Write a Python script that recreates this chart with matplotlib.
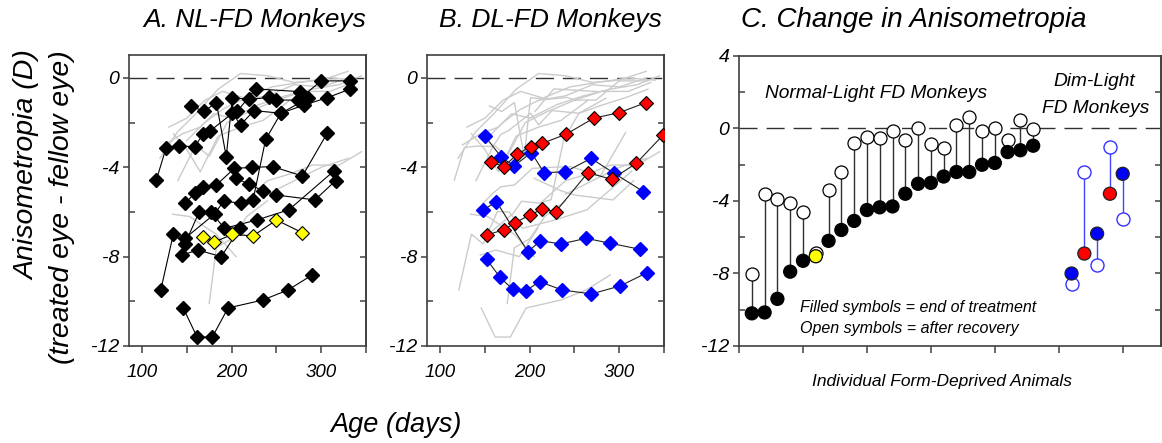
import matplotlib
matplotlib.use('Agg')
import matplotlib.pyplot as plt

plt.rcParams['font.family'] = ['Liberation Sans', 'DejaVu Sans']
plt.rcParams['font.style'] = 'italic'
plt.rcParams['axes.unicode_minus'] = False

# ---------------- data ----------------
# panel A: normal-light FD monkeys, black diamonds (age in days, anisometropia D)
nl_days = [
    [146, 161.5, 178.5, 196, 235, 263, 290],
    [121, 135, 148, 164, 177, 192, 228, 264, 314],
    [145, 162, 188.5, 209],
    [148, 181, 191, 210, 224, 238, 255, 285],
    [148, 159, 168, 183, 203, 223, 246, 279, 307],
    [205, 219, 235, 250, 293, 316],
    [116, 127, 141, 159, 168, 176, 201, 210, 225, 255, 281, 307, 332],
    [155, 169, 183, 194, 201, 219, 242, 250, 274, 300, 332],
    [206, 227, 276],
]
nl_vals = [
    [-10.3, -11.6, -11.6, -10.3, -9.94, -9.49, -8.82],
    [-9.49, -6.99, -7.43, -5.98, -6.0, -6.73, -6.36, -5.9, -4.17],
    [-7.93, -7.7, -8.0, -6.73],
    [-7.18, -6.09, -5.52, -5.6, -5.45, -2.75, -1.58, -0.91],
    [-5.61, -5.16, -4.87, -4.79, -4.05, -4.0, -3.97, -4.39, -2.45],
    [-4.49, -4.75, -5.05, -5.24, -5.46, -4.6],
    [-4.57, -3.12, -3.05, -3.07, -2.52, -2.37, -1.58, -2.1, -1.46, -1.58, -1.21, -0.88, -0.5],
    [-1.25, -1.5, -1.1, -3.52, -0.88, -0.96, -0.87, -0.99, -0.99, -0.13, -0.13],
    [-1.5, -0.49, -0.61],
]
# highlighted NL animal (yellow)
yel_days = [168, 180, 201, 224, 250, 279]
yel_vals = [-7.1, -7.36, -7.0, -7.07, -6.36, -6.93]

# grey background traces in panel A
grey_days = [
    [120, 140, 160, 185, 210, 240, 270, 300, 330],
    [130, 150, 170, 190, 215, 245, 275, 310, 340],
    [125, 145, 165, 180, 200, 230, 260, 290, 320, 345],
    [140, 160, 175, 195, 220, 250, 280, 310, 335],
    [150, 170, 190, 210, 240, 270, 300, 330],
    [135, 150, 165, 185, 210, 235, 265],
    [215, 240, 265, 290, 320, 345],
    [134, 153, 164, 183, 205],
    [175, 183, 200, 217, 240],
    [240, 270, 300, 330],
]
grey_vals = [
    [-3.6, -2.4, -1.6, -0.5, 0.2, 0.1, -0.2, -0.1, 0.3],
    [-2.2, -1.8, -1.0, -0.6, -0.9, -0.4, -0.2, 0.0, -0.1],
    [-3.0, -2.5, -2.2, -1.6, -1.8, -1.2, -0.8, -0.5, -0.3, 0.1],
    [-4.6, -3.0, -3.5, -2.0, -1.5, -1.0, -0.6, -0.6, -0.2],
    [-2.8, -2.0, -1.4, -1.0, -0.8, -0.3, -0.4, 0.0],
    [-2.5, -3.2, -4.2, -2.6, -2.2, -1.9, -1.0],
    [-5.5, -4.6, -4.3, -3.9, -3.9, -3.3],
    [-6.1, -6.2, -6.5, -7.0, -8.0],
    [-10.1, -7.6, -7.2, -6.2, -5.5],
    [-5.2, -4.6, -4.0, -3.6],
]

# panel B: dim-light FD monkeys
dl_days = [
    [150, 168.5, 182.6, 202, 216, 240, 268.5, 294.4, 327],
    [148, 163, 198, 212, 235, 263, 290, 323],
    [152, 167, 181, 196, 211, 236, 269, 301, 331],
    [157, 171, 186, 201, 214, 241, 271.5, 300, 330],
    [152, 171, 184, 200, 214, 229, 265, 291.5, 319, 349],
]
dl_vals = [
    [-2.6, -3.55, -3.94, -3.34, -4.24, -4.2, -3.6, -4.27, -5.09],
    [-5.91, -5.54, -7.78, -7.29, -7.43, -7.18, -7.4, -7.67],
    [-8.12, -8.93, -9.46, -9.52, -9.12, -9.49, -9.67, -9.31, -8.72],
    [-3.75, -3.97, -3.42, -3.07, -2.93, -2.51, -1.8, -1.55, -1.1],
    [-7.03, -6.8, -6.48, -6.14, -5.88, -5.99, -4.24, -4.54, -3.82, -2.55],
]
dl_colors = ['blue', 'blue', 'blue', 'red', 'red']

# panel C: change in anisometropia for individual animals
nl_end = [-10.2, -10.15, -9.4, -7.9, -7.3, -7.05, -6.2, -5.6, -5.1, -4.5, -4.35, -4.3,
          -3.6, -3.05, -3.0, -2.65, -2.4, -2.4, -2.0, -1.9, -1.3, -1.2, -0.95]
nl_rec = [-8.05, -3.6, -3.9, -4.1, -4.6, -6.85, -3.4, -2.4, -0.8, -0.45, -0.55, -0.15,
          -0.65, 0.05, -0.85, -1.1, 0.2, 0.65, -0.15, 0.0, -0.65, 0.45, -0.05]
nl_fill = ['black'] * 5 + ['yellow'] + ['black'] * 17
dl_end = [-8.0, -6.9, -5.8, -3.6, -2.5]
dl_rec = [-8.6, -2.4, -7.55, -1.0, -5.0]
dl_fill = ['blue', 'red', 'blue', 'red', 'blue']

spine_col = '#404040'
grey_col = '#cbcbcb'
diamond = 7.3


def style_axes(ax, ylim, ymajor, yminor, yright, xlim, xticks, xlabels):
    """Set limits, spines and the mixed in/out ticks used in every panel"""
    ax.set_xlim(xlim)
    ax.set_ylim(ylim)
    for s in ax.spines.values():
        s.set_color(spine_col)
        s.set_linewidth(1.2)
    ax.set_yticks(ymajor)
    ax.set_yticklabels([str(v) for v in ymajor])
    ax.set_yticks(yminor, minor=True)
    ax.set_xticks(xticks)
    ax.set_xticklabels(xlabels)
    ax.tick_params(axis='y', which='major', direction='out', length=4, width=1.1,
                   color=spine_col, labelsize=14, pad=3)
    ax.tick_params(axis='y', which='minor', direction='in', length=4, width=1.1, color=spine_col)
    ax.tick_params(axis='x', which='major', direction='out', length=5, width=1.1,
                   color=spine_col, labelsize=13.5, pad=8)
    # right spine: inward ticks every 2 D
    sec = ax.secondary_yaxis('right')
    sec.set_yticks(yright)
    sec.tick_params(direction='in', length=4, width=1.1, color=spine_col, labelright=False)
    sec.spines['right'].set_color(spine_col)
    sec.spines['right'].set_linewidth(1.2)
    # dashed zero line
    ax.axhline(0, color='#303030', lw=1.0, dashes=(13, 6.5), zorder=1)


fig = plt.figure(figsize=(11.62, 4.43), dpi=100)

xlim_age = (85.5, 350)
age_ticks = [100, 150, 200, 250, 300, 350]
age_labels = ['100', '', '200', '', '300', '']

# ---------------- panel A ----------------
axA = fig.add_axes([0.1110, 0.2190, 0.2040, 0.6569])
style_axes(axA, (-12, 1.03), [0, -4, -8, -12], [-2, -6, -10], [-2, -4, -6, -8, -10],
           xlim_age, age_ticks, age_labels)
for d, v in zip(grey_days, grey_vals):
    axA.plot(d, v, color=grey_col, lw=1.0, zorder=2)
for d, v in zip(nl_days, nl_vals):
    axA.plot(d, v, color='black', lw=0.8, marker='D', ms=diamond, mfc='black', mec='black', zorder=3)
axA.plot(yel_days, yel_vals, color='black', lw=0.8, marker='D', ms=diamond,
         mfc='#ffff00', mec='black', mew=0.8, zorder=4)

# ---------------- panel B ----------------
axB = fig.add_axes([0.3675, 0.2190, 0.2040, 0.6569])
style_axes(axB, (-12, 1.03), [0, -4, -8, -12], [-2, -6, -10], [-2, -4, -6, -8, -10],
           xlim_age, age_ticks, age_labels)
for d, v in zip(nl_days + grey_days, nl_vals + grey_vals):
    axB.plot(d, v, color=grey_col, lw=1.0, zorder=2)
for d, v, c in zip(dl_days, dl_vals, dl_colors):
    if c == 'red':
        axB.plot(d, v, color='#202020', lw=0.8, marker='D', ms=diamond, mfc='#ff0000',
                 mec='black', mew=0.8, zorder=4)
    else:
        axB.plot(d, v, color='#202020', lw=0.8, marker='D', ms=diamond, mfc='#0000ff',
                 mec='#0000ff', zorder=3)

# ---------------- panel C ----------------
axC = fig.add_axes([0.6360, 0.2190, 0.3632, 0.6546])
style_axes(axC, (-12, 4), [4, 0, -4, -8, -12], [2, -2, -6, -10], [2, -2, -4, -6, -8, -10],
           (0, 33), [0, 5, 10, 15, 20, 25, 30], [''] * 7)
nl_x = list(range(1, len(nl_end) + 1))
dl_x = list(range(26, 26 + len(dl_end)))
for x, e, r in zip(nl_x, nl_end, nl_rec):
    axC.plot([x, x], [e, r], color='#303030', lw=1.0, zorder=2)
axC.scatter(nl_x, nl_rec, s=88, facecolor='white', edgecolor='black', linewidth=0.9, zorder=3)
axC.scatter(nl_x, nl_end, s=88, facecolor=nl_fill, edgecolor='black', linewidth=0.9, zorder=4)
for x, e, r in zip(dl_x, dl_end, dl_rec):
    axC.plot([x, x], [e, r], color='#4444ff', lw=1.0, zorder=2)
axC.scatter(dl_x, dl_rec, s=88, facecolor='white', edgecolor='#3333ff', linewidth=1.0, zorder=3)
axC.scatter(dl_x, dl_end, s=88, facecolor=dl_fill, edgecolor='#202020', linewidth=0.9, zorder=4)

axC.text(10.7, 1.93, 'Normal-Light FD Monkeys', fontsize=13.8, ha='center', va='center')
axC.text(27.8, 2.6, 'Dim-Light', fontsize=13.8, ha='center', va='center')
axC.text(27.9, 1.1, 'FD Monkeys', fontsize=13.8, ha='center', va='center')
axC.text(4.8, -9.88, 'Filled symbols = end of treatment', fontsize=11.5, ha='left', va='center')
axC.text(4.8, -11.03, 'Open symbols = after recovery', fontsize=11.5, ha='left', va='center')

# ---------------- figure texts ----------------
fig.text(0.219, 0.955, 'A. NL-FD Monkeys', fontsize=19, ha='center', va='center')
fig.text(0.474, 0.955, 'B. DL-FD Monkeys', fontsize=19, ha='center', va='center')
fig.text(0.786, 0.955, 'C. Change in Anisometropia', fontsize=20, ha='center', va='center')
fig.text(0.024, 0.887, 'Anisometropia (D)', fontsize=20.5, rotation=90, ha='center', va='top')
fig.text(0.053, 0.887, '(treated eye - fellow eye)', fontsize=20.5, rotation=90, ha='center', va='top')
fig.text(0.341, 0.041, 'Age (days)', fontsize=19.5, ha='center', va='center')
fig.text(0.811, 0.138, 'Individual Form-Deprived Animals', fontsize=12.5, ha='center', va='center')

fig.savefig('out.png', dpi=100)
